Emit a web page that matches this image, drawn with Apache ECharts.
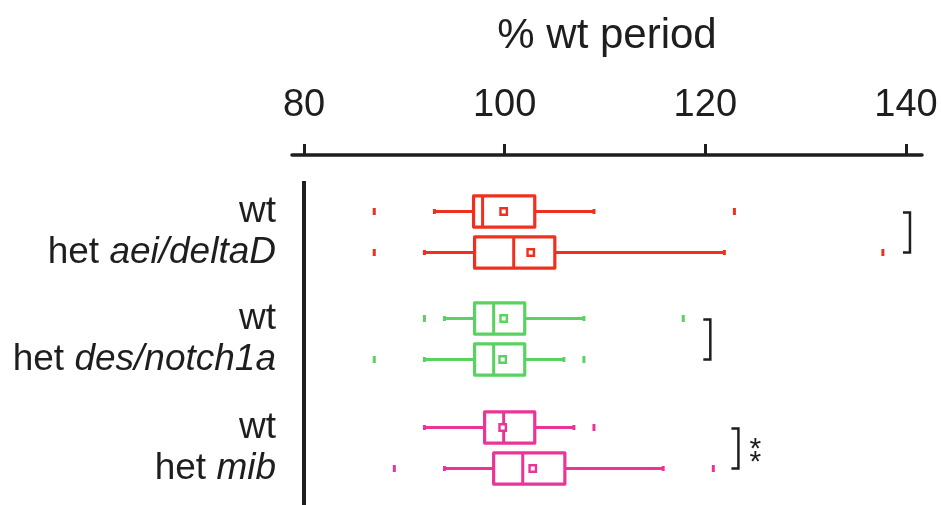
<!DOCTYPE html>
<html>
<head>
<meta charset="utf-8">
<script src="https://cdn.jsdelivr.net/npm/echarts@6/dist/echarts.min.js"></script>
<style>
html,body{margin:0;padding:0;background:#fff;}
#chart{width:941px;height:505px;}
</style>
</head>
<body>
<div id="chart"></div>
<script>
// ---------------- data ----------------
var axisTitle = '% wt period';
var tickValues = [80, 100, 120, 140];
var genes = ['aei/deltaD', 'des/notch1a', 'mib'];
var rowNames = ['wt', 'het'];
// per row: [lower whisker, Q1, median, Q3, upper whisker]
var statsAei   = [[93.0, 96.9, 97.8, 103.0, 108.9], [92.0, 97.0, 100.9, 105.0, 121.9]];
var statsDes   = [[94.0, 97.0, 98.9, 102.0, 107.9], [92.0, 97.0, 98.9, 102.0, 105.9]];
var statsMib   = [[92.0, 98.0, 99.9, 103.0, 106.9], [94.0, 98.9, 101.8, 106.0, 115.8]];
var meansAei = [99.9, 102.6];
var meansDes = [99.9, 99.8];
var meansMib = [99.8, 102.8];
var outliersAei = [[87.0, 122.9], [87.0, 137.7]];
var outliersDes = [[92.0, 117.8], [87.0, 107.9]];
var outliersMib = [[108.9], [89.0, 120.8]];
// significance annotations (bracket x in axis units, label)
var bracketAt = [140.4, 120.5, 123.3];
var sigLabels = ['', '', '**'];

// ---------------- styles ----------------
var colors = ['#f0301f', '#5ad262', '#ea3498'];
var FONT = '"Liberation Sans", Arial, Helvetica, sans-serif';
var INK = '#1e1e1e';
var X_MIN = 78.8, X_MAX = 141.6;
var gridTops = [191, 298, 407];
var GRID_H = 82, GRID_LEFT = 292, GRID_RIGHT = 19;

var allStats = [statsAei, statsDes, statsMib];
var allMeans = [meansAei, meansDes, meansMib];
var allOutliers = [outliersAei, outliersDes, outliersMib];

function boxRenderer(color) {
  return function (params, api) {
    var cat = api.value(0);
    var lo = api.coord([api.value(1), cat]);
    var q1 = api.coord([api.value(2), cat]);
    var md = api.coord([api.value(3), cat]);
    var q3 = api.coord([api.value(4), cat]);
    var hi = api.coord([api.value(5), cat]);
    var mn = api.coord([api.value(6), cat]);
    var band = api.size([0, 1])[1];
    var h = band * 0.76;
    var y = lo[1];
    var line = {stroke: color, lineWidth: 3, lineCap: 'butt'};
    return {
      type: 'group',
      children: [
        {type: 'line', shape: {x1: lo[0], y1: y, x2: q1[0], y2: y}, style: line},
        {type: 'line', shape: {x1: q3[0], y1: y, x2: hi[0], y2: y}, style: line},
        {type: 'rect', shape: {x: lo[0] - 1.5, y: y - 2.5, width: 3, height: 5}, style: {fill: color}},
        {type: 'rect', shape: {x: hi[0] - 1.5, y: y - 2.5, width: 3, height: 5}, style: {fill: color}},
        {type: 'rect', shape: {x: q1[0], y: y - h / 2, width: q3[0] - q1[0], height: h},
          style: {stroke: color, lineWidth: 3.2, fill: '#fff', lineJoin: 'round'}},
        {type: 'line', shape: {x1: md[0], y1: y - h / 2, x2: md[0], y2: y + h / 2}, style: line},
        {type: 'rect', shape: {x: mn[0] - 3.2, y: y - 3.2, width: 6.4, height: 6.4},
          style: {stroke: color, lineWidth: 2.4, fill: '#fff'}}
      ]
    };
  };
}

function bracketRenderer(label) {
  return function (params, api) {
    var xv = api.value(0);
    var top = api.coord([xv, 0]);
    var bot = api.coord([xv, 1]);
    var st = {stroke: INK, lineWidth: 2.5, fill: null};
    var ch = [
      {type: 'polyline', shape: {points: [[top[0] - 7, top[1] + 1], [top[0], top[1] + 1], [bot[0], bot[1]], [bot[0] - 7, bot[1]]]}, style: st}
    ];
    if (label) {
      var midY = (top[1] + bot[1]) / 2;
      var chars = label.split('');
      for (var k = 0; k < chars.length; k++) {
        ch.push({type: 'text', x: top[0] + 17, y: midY + 8 + (k - (chars.length - 1) / 2) * 13,
          style: {text: chars[k], fill: INK, font: '30px ' + FONT, align: 'center', verticalAlign: 'middle'}});
      }
    }
    return {type: 'group', children: ch};
  };
}

var grids = [], xAxes = [], yAxes = [], series = [];
for (var g = 0; g < 3; g++) {
  grids.push({left: GRID_LEFT, right: GRID_RIGHT, top: gridTops[g], height: GRID_H});
  var xa = {
    type: 'value', gridIndex: g, min: X_MIN, max: X_MAX,
    splitLine: {show: false}
  };
  if (g === 0) {
    xa.position = 'top';
    xa.offset = 36;
    xa.axisLine = {show: true, lineStyle: {color: INK, width: 3.5, cap: 'round'}};
    xa.axisTick = {show: true, customValues: tickValues, length: 11, inside: false, lineStyle: {color: INK, width: 3}};
    xa.axisLabel = {show: true, customValues: tickValues, fontSize: 38, fontFamily: FONT, color: INK, margin: 30};
    xa.name = axisTitle;
    xa.nameLocation = 'middle';
    xa.nameGap = 98;
    xa.nameTextStyle = {fontSize: 42, fontFamily: FONT, color: INK};
  } else {
    xa.show = false;
  }
  xAxes.push(xa);
  (function (gene) {
    yAxes.push({
      type: 'category', gridIndex: g, inverse: true,
      data: rowNames,
      axisLine: {show: false}, axisTick: {show: false}, splitLine: {show: false},
      axisLabel: {
        margin: 16, align: 'right',
        formatter: function (v) { return v === 'wt' ? '{n|wt}' : '{n|het }{i|' + gene + '}'; },
        rich: {
          n: {fontSize: 37, fontFamily: FONT, color: INK},
          i: {fontSize: 37, fontFamily: FONT, color: INK, fontStyle: 'italic'}
        }
      }
    });
  })(genes[g]);

  var boxData = [];
  var outData = [];
  for (var r = 0; r < 2; r++) {
    var s = allStats[g][r];
    boxData.push([r, s[0], s[1], s[2], s[3], s[4], allMeans[g][r]]);
    allOutliers[g][r].forEach(function (v) { outData.push([v, r]); });
  }
  series.push({
    type: 'custom', xAxisIndex: g, yAxisIndex: g,
    renderItem: boxRenderer(colors[g]),
    encode: {x: [1, 2, 3, 4, 5, 6], y: 0},
    data: boxData, silent: true, clip: false
  });
  series.push({
    type: 'scatter', xAxisIndex: g, yAxisIndex: g,
    symbol: 'rect', symbolSize: [3, 7],
    itemStyle: {color: colors[g], opacity: 1},
    data: outData, silent: true
  });
  series.push({
    type: 'custom', xAxisIndex: g, yAxisIndex: g,
    renderItem: bracketRenderer(sigLabels[g]),
    encode: {x: 0},
    data: [[bracketAt[g]]], silent: true, clip: false
  });
}

var chart = echarts.init(document.getElementById('chart'), null, {renderer: 'canvas'});
chart.setOption({
  animation: false,
  backgroundColor: '#fff',
  grid: grids,
  xAxis: xAxes,
  yAxis: yAxes,
  series: series,
  graphic: [{
    type: 'line', shape: {x1: 304, y1: 181, x2: 304, y2: 505},
    style: {stroke: INK, lineWidth: 4}
  }]
});
</script>
</body>
</html>
